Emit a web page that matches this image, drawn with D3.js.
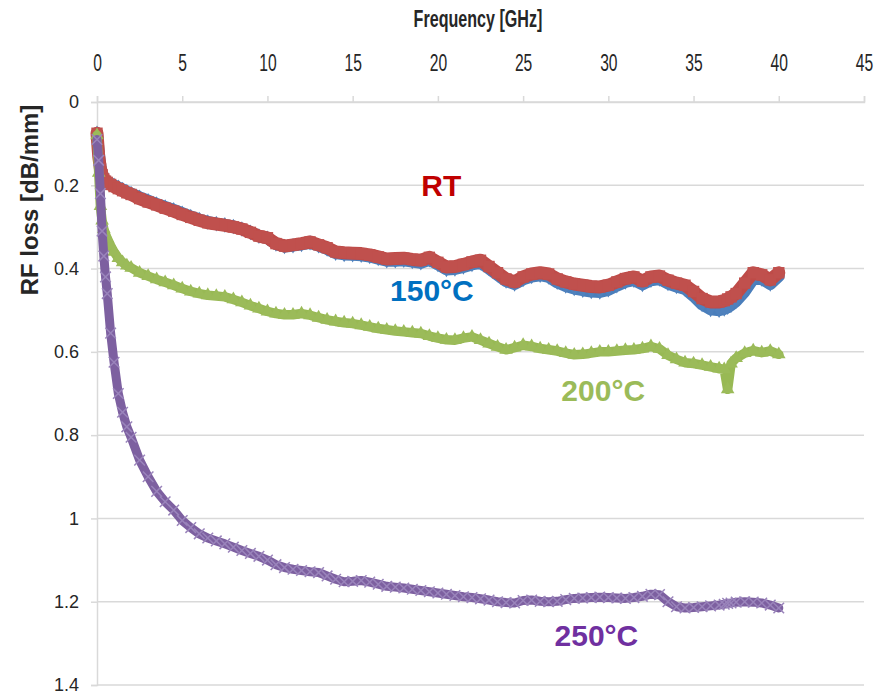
<!DOCTYPE html>
<html>
<head>
<meta charset="utf-8">
<script src="https://cdn.jsdelivr.net/npm/d3@7"></script>
<style>
  html, body { margin: 0; padding: 0; background: #ffffff; }
  svg { display: block; }
  .sans { font-family: "Liberation Sans", Arial, sans-serif; }
</style>
</head>
<body>
<svg id="chart" width="886" height="695"></svg>
<script>
// Frequency samples [GHz] shared by all measured curves
const freq = [
  0, 0.1, 0.2, 0.3, 0.4, 0.5, 0.6, 0.8, 1, 1.25, 1.5, 1.75,
  2, 2.5, 3, 3.5, 4, 4.5, 5, 5.5, 6, 6.5,
  7, 7.5, 8, 8.5, 9, 9.5, 10, 10.5, 11, 11.5,
  12, 12.5, 13, 13.5, 14, 14.5, 15, 15.5, 16, 16.5,
  17, 17.5, 18, 18.5, 19, 19.5, 20, 20.5, 21, 21.5,
  22, 22.5, 23, 23.5, 24, 24.5, 25, 25.5, 26, 26.5,
  27, 27.5, 28, 28.5, 29, 29.5, 30, 30.5, 31, 31.5,
  32, 32.5, 33, 33.5, 34, 34.5, 35, 35.5, 36, 36.5,
  36.8, 37, 37.2, 37.5, 38, 38.5, 39, 39.5, 40
];

// RF loss [dB/mm] after annealing at each temperature
const lossRT = [
  0.075, 0.13, 0.16, 0.175, 0.185, 0.19, 0.193, 0.198, 0.203, 0.208, 0.213, 0.218,
  0.222, 0.232, 0.24, 0.247, 0.255, 0.262, 0.27, 0.277, 0.284, 0.29,
  0.293, 0.296, 0.3, 0.305, 0.313, 0.322, 0.326, 0.34, 0.346, 0.343,
  0.34, 0.336, 0.343, 0.35, 0.36, 0.362, 0.363, 0.364, 0.367, 0.372,
  0.377, 0.376, 0.375, 0.378, 0.38, 0.373, 0.385, 0.396, 0.395, 0.39,
  0.384, 0.38, 0.395, 0.41, 0.425, 0.432, 0.42, 0.413, 0.41, 0.413,
  0.425, 0.432, 0.437, 0.44, 0.443, 0.444, 0.44, 0.432, 0.424, 0.42,
  0.43, 0.42, 0.418, 0.428, 0.435, 0.44, 0.455, 0.472, 0.48, 0.48,
  0.477, 0.473, 0.468, 0.46, 0.435, 0.41, 0.415, 0.427, 0.41
];
const loss150 = [
  0.075, 0.12, 0.155, 0.172, 0.182, 0.188, 0.191, 0.196, 0.2, 0.205, 0.21, 0.215,
  0.22, 0.229, 0.237, 0.245, 0.252, 0.259, 0.267, 0.275, 0.282, 0.288,
  0.292, 0.295, 0.299, 0.305, 0.313, 0.322, 0.327, 0.341, 0.347, 0.345,
  0.342, 0.338, 0.345, 0.353, 0.363, 0.366, 0.367, 0.368, 0.371, 0.376,
  0.381, 0.381, 0.38, 0.383, 0.386, 0.379, 0.39, 0.402, 0.401, 0.396,
  0.39, 0.386, 0.4, 0.415, 0.43, 0.437, 0.426, 0.419, 0.416, 0.42,
  0.433, 0.442, 0.448, 0.452, 0.455, 0.456, 0.451, 0.441, 0.432, 0.428,
  0.438, 0.428, 0.425, 0.436, 0.443, 0.449, 0.466, 0.486, 0.498, 0.5,
  0.497, 0.493, 0.488, 0.478, 0.455, 0.425, 0.425, 0.437, 0.418
];
const loss200 = [
  0.08, 0.17, 0.25, 0.285, 0.305, 0.318, 0.328, 0.345, 0.36, 0.375, 0.385, 0.393,
  0.398, 0.41, 0.418, 0.426, 0.433, 0.44, 0.448, 0.455, 0.46, 0.464,
  0.466, 0.468, 0.474, 0.481, 0.489, 0.496, 0.503, 0.508, 0.511, 0.511,
  0.508, 0.512, 0.518, 0.523, 0.527, 0.53, 0.532, 0.536, 0.54, 0.544,
  0.547, 0.55, 0.552, 0.554, 0.556, 0.562, 0.567, 0.571, 0.572, 0.567,
  0.564, 0.572, 0.58, 0.588, 0.595, 0.59, 0.584, 0.587, 0.592, 0.595,
  0.598, 0.603, 0.607, 0.606, 0.603, 0.6, 0.6, 0.598, 0.596, 0.595,
  0.592, 0.587, 0.593, 0.608, 0.618, 0.626, 0.628, 0.632, 0.636, 0.64,
  0.642, 0.69, 0.628, 0.615, 0.603, 0.597, 0.602, 0.598, 0.606
];
const loss250 = [
  0.09, 0.14, 0.22, 0.31, 0.37, 0.42, 0.46, 0.555, 0.625, 0.7, 0.745, 0.78,
  0.805, 0.86, 0.9, 0.935, 0.96, 0.98, 1.005, 1.022, 1.037, 1.047,
  1.054, 1.061, 1.069, 1.077, 1.084, 1.091, 1.1, 1.111, 1.118, 1.122,
  1.125, 1.128, 1.13, 1.138, 1.146, 1.152, 1.151, 1.149, 1.153, 1.158,
  1.163, 1.165, 1.167, 1.17, 1.173, 1.176, 1.179, 1.182, 1.185, 1.188,
  1.19, 1.193, 1.196, 1.2, 1.202, 1.203, 1.197, 1.196, 1.199, 1.2,
  1.199, 1.195, 1.192, 1.191, 1.19, 1.189, 1.19, 1.191, 1.192, 1.19,
  1.187, 1.182, 1.183, 1.2, 1.212, 1.215, 1.214, 1.212, 1.21, 1.208,
  1.206, 1.204, 1.203, 1.201, 1.2, 1.201, 1.203, 1.208, 1.215
];

// Axis ticks
const xTicks = [0, 5, 10, 15, 20, 25, 30, 35, 40, 45];
const yTicks = [0, 0.2, 0.4, 0.6, 0.8, 1, 1.2, 1.4];

// Curve labels placed beside each trace
const seriesNames = ["150°C", "RT", "200°C", "250°C"];

(function draw() {
  const svg = d3.select("#chart");
  const plotLeft = 97, plotRight = 864, plotTop = 102, plotBottom = 685;

  const x = d3.scaleLinear().domain([0, 45]).range([plotLeft, plotRight]);
  const y = d3.scaleLinear().domain([0, 1.4]).range([plotTop, plotBottom]);

  const gridColor = "#d9d9d9";
  const textColor = "#262626";

  // horizontal gridlines
  svg.append("g").selectAll("line")
    .data(yTicks)
    .join("line")
    .attr("x1", plotLeft).attr("x2", plotRight)
    .attr("y1", d => y(d)).attr("y2", d => y(d))
    .attr("stroke", gridColor).attr("stroke-width", 1.5);

  // frequency axis along the top (condensed digits)
  const xAxis = svg.append("g")
    .attr("transform", `translate(0,${plotTop})`)
    .call(d3.axisTop(x).tickValues(xTicks).tickSize(6).tickPadding(25).tickFormat(d3.format("d")));
  xAxis.select(".domain").attr("stroke", gridColor).attr("stroke-width", 1.5);
  xAxis.selectAll(".tick line").attr("stroke", gridColor).attr("stroke-width", 1.5);
  xAxis.selectAll(".tick text")
    .attr("class", "sans")
    .attr("font-size", 23)
    .attr("transform", "scale(0.68,1)")
    .attr("fill", textColor);

  // loss axis on the left
  const yAxis = svg.append("g")
    .attr("transform", `translate(${plotLeft},0)`)
    .call(d3.axisLeft(y).tickValues(yTicks).tickSize(6).tickPadding(12).tickFormat(d => String(d)));
  yAxis.select(".domain").attr("stroke", gridColor).attr("stroke-width", 1.5);
  yAxis.selectAll(".tick line").attr("stroke", gridColor).attr("stroke-width", 1.5);
  yAxis.selectAll(".tick text")
    .attr("class", "sans")
    .attr("font-size", 18)
    .attr("fill", textColor);

  // axis titles
  svg.append("text")
    .attr("class", "sans")
    .attr("transform", "translate(478,27) scale(0.7,1)")
    .attr("text-anchor", "middle")
    .attr("font-size", 23).attr("font-weight", "bold")
    .attr("fill", textColor)
    .text("Frequency [GHz]");

  svg.append("text")
    .attr("class", "sans")
    .attr("transform", "translate(38,200) rotate(-90)")
    .attr("text-anchor", "middle")
    .attr("font-size", 24).attr("font-weight", "bold")
    .attr("fill", textColor)
    .text("RF loss [dB/mm]");

  // measured curves, drawn as dense marker bands
  const series = [
    { values: loss150, line: "#4a7ebb", fill: "#4f81bd", symbol: d3.symbolDiamond,  size: 70,  width: 12, stroked: false },
    { values: lossRT,  line: "#be4b48", fill: "#c0504d", symbol: d3.symbolSquare,   size: 130, width: 13, stroked: false },
    { values: loss200, line: "#98b954", fill: "#9bbb59", symbol: d3.symbolTriangle, size: 80,  width: 9.5, stroked: false },
    { values: loss250, line: "#7d60a0", fill: "#8064a2", symbol: d3.symbolX,        size: 75,  width: 9,  stroked: true }
  ];

  const line = d3.line()
    .x(d => x(d[0]))
    .y(d => y(d[1]))
    .curve(d3.curveLinear);

  series.forEach(s => {
    const pts = freq.map((f, i) => [f, s.values[i]]);
    const g = svg.append("g");
    g.append("path")
      .datum(pts)
      .attr("d", line)
      .attr("fill", "none")
      .attr("stroke", s.line)
      .attr("stroke-width", s.width)
      .attr("stroke-linejoin", "round")
      .attr("stroke-linecap", "round");
    const sym = d3.symbol().type(s.symbol).size(s.size);
    g.selectAll("path.mk")
      .data(pts)
      .join("path")
      .attr("class", "mk")
      .attr("transform", d => `translate(${x(d[0])},${y(d[1])})`)
      .attr("d", sym)
      .attr("fill", s.stroked ? "none" : s.fill)
      .attr("stroke", s.stroked ? "#9a84bb" : "none")
      .attr("stroke-width", s.stroked ? 1.5 : 0);
  });

  // curve labels
  const labels = [
    { text: seriesNames[1], fx: 20.2,  fy: 0.2,   color: "#c00000" },
    { text: seriesNames[0], fx: 19.65, fy: 0.452, color: "#0070c0" },
    { text: seriesNames[2], fx: 29.7,  fy: 0.692, color: "#9bbb59" },
    { text: seriesNames[3], fx: 29.3,  fy: 1.28,  color: "#7030a0" }
  ];
  svg.append("g").selectAll("text")
    .data(labels)
    .join("text")
    .attr("class", "sans")
    .attr("x", d => x(d.fx))
    .attr("y", d => y(d.fy))
    .attr("text-anchor", "middle")
    .attr("dominant-baseline", "central")
    .attr("font-size", 30)
    .attr("font-weight", "bold")
    .attr("fill", d => d.color)
    .text(d => d.text);
})();
</script>
</body>
</html>
